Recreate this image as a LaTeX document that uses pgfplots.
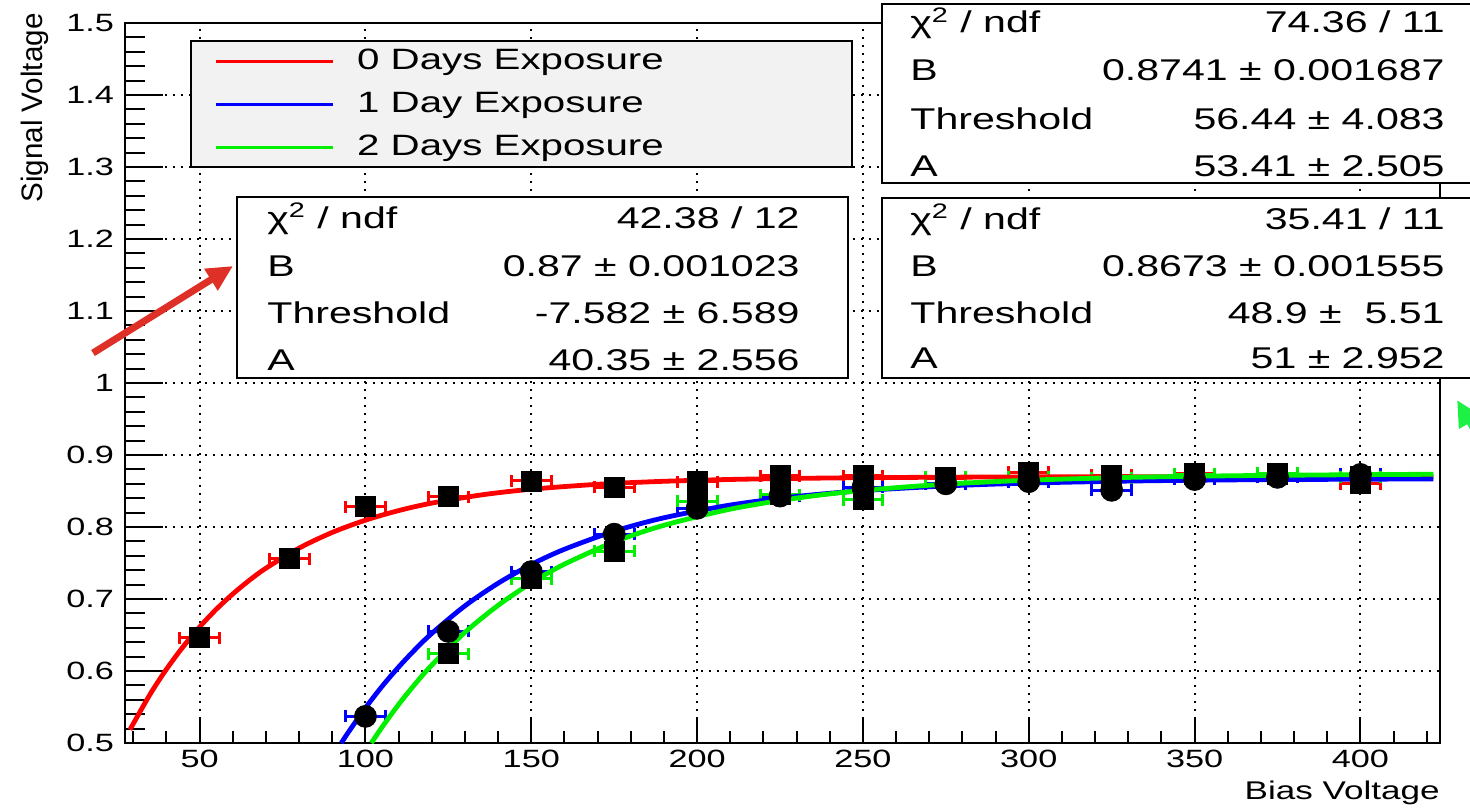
\documentclass[border=0pt]{standalone}
\usepackage{pgfplots}
\pgfplotsset{compat=1.18}
\usepackage{pgfplotstable}
\usepackage{fontspec}
\setmainfont{Liberation Sans}[FakeStretch=1.37]
\newfontfamily\labfont{Liberation Sans}
\usetikzlibrary{arrows.meta}

\definecolor{rootred}{RGB}{255,0,0}
\definecolor{rootblue}{RGB}{0,0,255}
\definecolor{rootgreen}{RGB}{0,240,0}
\definecolor{arrowred}{RGB}{222,48,38}
\definecolor{arrowgreen}{RGB}{30,240,70}

% measured points
\pgfplotstableread{
x y
50 0.646
77 0.756
100 0.828
125 0.842
150 0.864
175 0.855
200 0.863
225 0.871
250 0.871
275 0.868
300 0.876
325 0.872
350 0.874
375 0.873
400 0.860
}\zerodays
\pgfplotstableread{
x y
100 0.537
125 0.655
150 0.738
175 0.790
200 0.826
225 0.843
250 0.855
275 0.860
300 0.863
325 0.851
350 0.866
375 0.869
400 0.873
}\onedays
\pgfplotstableread{
x y
125 0.624
150 0.728
175 0.766
200 0.836
225 0.845
250 0.838
275 0.869
300 0.870
325 0.868
350 0.873
375 0.875
400 0.870
}\twodays

% fitted curves
\pgfplotstableread{
x y
29 0.5186
35 0.5672
40 0.6025
45 0.6336
50 0.6612
55 0.6856
60 0.7070
65 0.7260
70 0.7428
80 0.7707
90 0.7925
100 0.8095
110 0.8228
120 0.8332
135 0.8446
150 0.8525
170 0.8593
190 0.8635
215 0.8665
250 0.8685
300 0.8696
350 0.8699
422 0.8700
}\fitzero
\pgfplotstableread{
x y
92.72 0.5
95 0.5160
100 0.5488
105 0.5786
110 0.6055
115 0.6300
120 0.6522
130 0.6905
140 0.7219
150 0.7479
160 0.7691
175 0.7941
190 0.8128
210 0.8305
230 0.8424
250 0.8505
275 0.8570
300 0.8610
330 0.8638
360 0.8654
400 0.8664
422 0.8667
}\fitone
\pgfplotstableread{
x y
101.77 0.5
105 0.5220
110 0.5535
115 0.5821
120 0.6082
130 0.6537
140 0.6912
150 0.7224
160 0.7484
175 0.7792
190 0.8024
210 0.8248
230 0.8402
250 0.8508
275 0.8595
300 0.8650
330 0.8689
360 0.8711
400 0.8727
422 0.8732
}\fittwo

\begin{document}
\begin{tikzpicture}
\useasboundingbox (0,0) rectangle (735pt,-404pt);
\clip (0,0) rectangle (735pt,-404pt);
\begin{axis}[
  at={(62.5pt,-371.5pt)}, anchor=south west,
  width=657.5pt, height=360pt, scale only axis,
  xmin=27.5, xmax=424, ymin=0.5, ymax=1.5,
  xtick={50,100,...,400}, minor xtick={30,40,...,420},
  ytick={0.5,0.6,0.7,0.8,0.9,1,1.1,1.2,1.3,1.4,1.5},
  minor y tick num=4,
  tick pos=left,
  grid=major,
  major grid style={black, line width=1pt, dash pattern=on 1pt off 3pt},
  axis line style={line width=1.2pt},
  tick style={black, line width=1pt},
  xtick style={/pgfplots/major tick length=12pt, /pgfplots/minor tick length=6pt},
  ytick style={/pgfplots/major tick length=19pt, /pgfplots/minor tick length=10pt},
  /pgf/number format/assume math mode=true,
  ticklabel style={font=\fontsize{12.5}{14}\selectfont},
  yticklabel style={xshift=-2pt},
  xlabel={Bias Voltage},
  every axis x label/.style={at={(1,-0.079)}, anchor=base east, inner sep=0pt,
    font=\fontsize{12.8}{15}\selectfont},
  ylabel={Signal Voltage},
  every axis y label/.style={at={(-0.0631,1.0139)}, rotate=90, anchor=base east,
    inner sep=0pt, font=\labfont\fontsize{14.8}{17}\selectfont},
  legend style={at={(0.0494,0.976)}, anchor=north west, fill=black!5, draw=black,
    line width=1pt, font=\fontsize{14.7}{17}\selectfont,
    inner xsep=11.5pt, inner ysep=3pt, row sep=7.5pt, column sep=11.5pt,
    nodes={inner sep=0pt, text height=11pt, text depth=3pt}},
  legend cell align=left,
  legend image code/.code={\draw[#1, line width=1.6pt] (0pt,0pt) -- (58.5pt,0pt);},
]
% data points with horizontal error bars
\addplot[forget plot, only marks, mark=square*, mark size=5pt, black,
  error bars/.cd, x dir=both, x fixed=6, error mark=|,
  error bar style={rootred, line width=1.5pt},
  error mark options={rootred, line width=1.5pt, mark size=3pt}] table {\zerodays};
\addplot[forget plot, only marks, mark=*, mark size=5.5pt, black,
  error bars/.cd, x dir=both, x fixed=6, error mark=|,
  error bar style={rootblue, line width=1.5pt},
  error mark options={rootblue, line width=1.5pt, mark size=3pt}] table {\onedays};
\addplot[forget plot, only marks, mark=square*, mark size=5pt, black,
  error bars/.cd, x dir=both, x fixed=6, error mark=|,
  error bar style={rootgreen, line width=1.5pt},
  error mark options={rootgreen, line width=1.5pt, mark size=3pt}] table {\twodays};
% fits
\addplot[rootred, line width=2.4pt, no marks, smooth] table {\fitzero};
\addlegendentry{\makebox[236pt][l]{0 Days Exposure}}
\addplot[rootblue, line width=2.4pt, no marks, smooth] table {\fitone};
\addlegendentry{\makebox[236pt][l]{1 Day Exposure}}
\addplot[rootgreen, line width=2.4pt, no marks, smooth] table {\fittwo};
\addlegendentry{\makebox[236pt][l]{2 Days Exposure}}
\end{axis}

\begin{scope}[x=0.5pt, y=-0.5pt, font=\fontsize{15}{18}\selectfont]
  % fit box, 0 days
  \draw[line width=1pt, fill=white] (237,197) rectangle (848,378);
  \node[anchor=base west, inner sep=0pt] at (267,228) {χ\textsuperscript{2} / ndf};
  \node[anchor=base east, inner sep=0pt] at (800,228) {42.38 / 12};
  \node[anchor=base west, inner sep=0pt] at (267,276) {B};
  \node[anchor=base east, inner sep=0pt] at (800,276) {0.87 ± 0.001023};
  \node[anchor=base west, inner sep=0pt] at (267,323) {Threshold};
  \node[anchor=base east, inner sep=0pt] at (800,323) {-7.582 ± 6.589};
  \node[anchor=base west, inner sep=0pt] at (267,370) {A};
  \node[anchor=base east, inner sep=0pt] at (800,370) {40.35 ± 2.556};
  % fit box, 2 days
  \draw[line width=1pt, fill=white] (882,4) rectangle (1490,183);
  \node[anchor=base west, inner sep=0pt] at (910,33) {χ\textsuperscript{2} / ndf};
  \node[anchor=base east, inner sep=0pt] at (1445,33) {74.36 / 11};
  \node[anchor=base west, inner sep=0pt] at (910,81) {B};
  \node[anchor=base east, inner sep=0pt] at (1445,81) {0.8741 ± 0.001687};
  \node[anchor=base west, inner sep=0pt] at (910,129) {Threshold};
  \node[anchor=base east, inner sep=0pt] at (1445,129) {56.44 ± 4.083};
  \node[anchor=base west, inner sep=0pt] at (910,176) {A};
  \node[anchor=base east, inner sep=0pt] at (1445,176) {53.41 ± 2.505};
  % fit box, 1 day
  \draw[line width=1pt, fill=white] (882,198) rectangle (1490,378);
  \node[anchor=base west, inner sep=0pt] at (910,229) {χ\textsuperscript{2} / ndf};
  \node[anchor=base east, inner sep=0pt] at (1445,229) {35.41 / 11};
  \node[anchor=base west, inner sep=0pt] at (910,276) {B};
  \node[anchor=base east, inner sep=0pt] at (1445,276) {0.8673 ± 0.001555};
  \node[anchor=base west, inner sep=0pt] at (910,323) {Threshold};
  \node[anchor=base east, inner sep=0pt] at (1445,323) {48.9 ±\ \ 5.51};
  \node[anchor=base west, inner sep=0pt] at (910,368) {A};
  \node[anchor=base east, inner sep=0pt] at (1445,368) {51 ± 2.952};
  % arrows
  \draw[arrowred, line width=3.5pt, -{Triangle[length=13pt, width=12pt]}] (93,353) -- (233,266);
  \draw[arrowgreen, line width=3.5pt, -{Triangle[length=13pt, width=12pt]}] (1495,465) -- (1457,400);
\end{scope}
\end{tikzpicture}
\end{document}
